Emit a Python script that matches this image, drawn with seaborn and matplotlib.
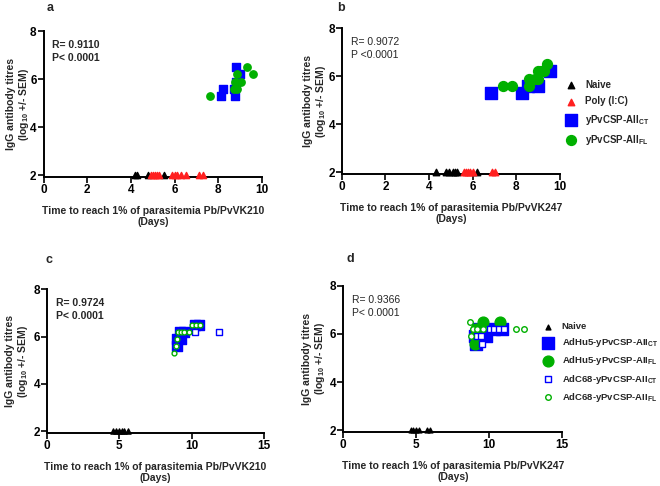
import numpy as np
import pandas as pd
import matplotlib
matplotlib.use("Agg")
import matplotlib.pyplot as plt
import seaborn as sns

# ---- panel a (Pb/PvVK210, yeast) ----
a_naive_x = [4.2, 4.3, 4.8, 5.5]
a_poly_x = [4.9, 5.0, 5.1, 5.2, 5.3, 5.9, 6.0, 6.1, 6.3, 6.5, 7.1, 7.3]
a_ct_x = [8.1, 8.2, 8.75, 8.7, 8.8, 9.0, 8.8]
a_ct_y = [5.3, 5.6, 5.3, 5.6, 6.5, 6.2, 5.9]
a_fl_x = [7.6, 9.3, 9.6, 8.85, 8.75, 9.05, 8.7, 8.85]
a_fl_y = [5.3, 6.5, 6.2, 6.2, 5.9, 5.9, 5.6, 5.6]

# ---- panel b (Pb/PvVK247, yeast) ----
b_naive_x = [4.3, 4.8, 4.9, 5.1, 5.2, 5.3, 6.2]
b_poly_x = [5.6, 5.7, 5.8, 5.9, 6.0, 6.9, 7.05]
b_ct_x = [6.85, 8.25, 8.55, 9.0, 9.55]
b_ct_y = [5.3, 5.3, 5.6, 5.6, 6.2]
b_fl_x = [7.4, 7.8, 8.6, 8.6, 8.85, 9.0, 9.0, 9.15, 9.3, 9.4]
b_fl_y = [5.6, 5.6, 5.9, 5.6, 5.9, 5.9, 6.2, 6.2, 6.2, 6.5]

# ---- panel c (Pb/PvVK210, adenovirus) ----
c_naive_x = [4.6, 4.8, 5.0, 5.2, 5.35, 5.6]
c_hu_ct_x = [9.0, 9.0, 9.3, 9.2, 9.5, 10.2, 10.5]
c_hu_ct_y = [5.6, 5.9, 5.9, 6.2, 6.2, 6.5, 6.5]
c_68_ct_x = [8.9, 10.2, 11.9, 9.4]
c_68_ct_y = [5.6, 6.2, 6.2, 6.2]
c_68_fl_x = [8.75, 8.95, 9.0, 9.05, 9.3, 9.5, 9.8, 10.0, 10.3, 10.55]
c_68_fl_y = [5.3, 5.6, 5.9, 6.2, 6.2, 6.2, 6.2, 6.5, 6.5, 6.5]

# ---- panel d (Pb/PvVK247, adenovirus) ----
d_naive_x = [4.65, 4.8, 5.0, 5.2, 5.75, 5.95]
d_hu_ct_x = [9.05, 9.3, 9.75, 10.3, 10.85, 9.1]
d_hu_ct_y = [5.9, 6.2, 5.9, 6.2, 6.2, 5.6]
d_hu_fl_x = [9.6, 10.7, 9.05, 9.1]
d_hu_fl_y = [6.5, 6.5, 5.6, 6.2]
d_68_ct_x = [9.5, 9.15, 9.4, 10.05, 10.3, 10.65, 11.0]
d_68_ct_y = [5.6, 5.9, 5.9, 6.2, 6.2, 6.2, 6.2]
d_68_fl_x = [8.7, 8.9, 9.15, 9.6, 11.8, 12.4, 8.75]
d_68_fl_y = [6.5, 6.2, 6.2, 6.2, 6.2, 6.2, 5.9]

stats = {"a": ("R= 0.9110", "P< 0.0001"), "b": ("R= 0.9072", "P <0.0001"),
         "c": ("R= 0.9724", "P< 0.0001"), "d": ("R= 0.9366", "P< 0.0001")}

BLUE = "#0000ff"
GREEN = "#00b000"
RED = "#ff2020"
W, H = 660, 486

sns.set_style("ticks")
plt.rcParams["font.family"] = ["Liberation Sans", "DejaVu Sans"]
plt.rcParams["mathtext.fontset"] = "custom"
plt.rcParams["mathtext.rm"] = "Liberation Sans:bold"
plt.rcParams["mathtext.bf"] = "Liberation Sans:bold"
plt.rcParams["mathtext.default"] = "bf"


def pts(ax, x, y, marker, s, color, filled=True, label=None, lw=1.0):
    kw = dict(marker=marker, s=s, linewidth=lw, clip_on=False, zorder=3)
    if filled:
        kw.update(color=color, edgecolor=color)
    else:
        kw.update(facecolor="white", edgecolor=color)
    sns.scatterplot(x=x, y=y, ax=ax, label=label, legend=False, **kw)


def style_axis(ax, xmax, xstep, letter, xlabel, bold_stats, ylab_x):
    ax.set_xlim(0, xmax)
    ax.set_ylim(1.93, 8)
    ax.set_xticks(np.arange(0, xmax + 0.1, xstep))
    ax.set_yticks([2, 4, 6, 8])
    sns.despine(ax=ax)
    for sp in ("left", "bottom"):
        ax.spines[sp].set_linewidth(1.4)
        ax.spines[sp].set_color("black")
    ax.tick_params(width=1.2, length=4, labelsize=8.5, pad=1, colors="black")
    for t in ax.get_xticklabels() + ax.get_yticklabels():
        t.set_fontweight("bold")
    ax.set_xlabel(xlabel, fontsize=7.5, fontweight="bold", labelpad=7, linespacing=1.2)
    ax.set_ylabel("IgG antibody titres\n(log$_{10}$ +/- SEM)", fontsize=7.5,
                  fontweight="bold", linespacing=1.1)
    ax.yaxis.set_label_coords(ylab_x, 0.5)
    r, p = stats[letter]
    ax.text(0.04, 0.94, r + "\n" + p, transform=ax.transAxes, fontsize=7.5,
            fontweight="bold" if bold_stats else "normal", va="top", linespacing=1.4)


fig = plt.figure(figsize=(6.6, 4.86), dpi=100)
ax_a = fig.add_axes([0.066, 0.636, 0.331, 0.300])
ax_b = fig.add_axes([0.518, 0.642, 0.330, 0.300])
ax_c = fig.add_axes([0.071, 0.109, 0.329, 0.296])
ax_d = fig.add_axes([0.520, 0.111, 0.332, 0.301])

# a
pts(ax_a, a_naive_x, [2] * len(a_naive_x), "^", 20, "black")
pts(ax_a, a_poly_x, [2] * len(a_poly_x), "^", 20, RED)
pts(ax_a, a_ct_x, a_ct_y, "s", 36, BLUE)
pts(ax_a, a_fl_x, a_fl_y, "o", 28, GREEN)
style_axis(ax_a, 10, 2, "a", "Time to reach 1% of parasitemia Pb/PvVK210\n(Days)", True, -0.057)

# b
pts(ax_b, b_naive_x, [2] * len(b_naive_x), "^", 12, "black", label="Naive")
pts(ax_b, b_poly_x, [2] * len(b_poly_x), "^", 12, RED, label="Poly (I:C)")
pts(ax_b, b_ct_x, b_ct_y, "s", 36, BLUE, label="yPvCSP-AII$_{CT}$")
pts(ax_b, b_fl_x, b_fl_y, "o", 28, GREEN, label="yPvCSP-AII$_{FL}$")
style_axis(ax_b, 10, 2, "b", "Time to reach 1% of parasitemia Pb/PvVK247\n(Days)", False, -0.064)
hb, lb = ax_b.get_legend_handles_labels()
for h in hb:
    h.set_sizes(h.get_sizes() * 1.8)
fig.legend(hb, lb, loc="upper left", bbox_to_anchor=(565 / W, 1 - 80 / H), frameon=False,
           prop={"size": 7.0, "weight": "bold"}, handlelength=1.2, handletextpad=0.9,
           labelspacing=0.65, borderpad=0, borderaxespad=0)

# c
pts(ax_c, c_naive_x, [2] * len(c_naive_x), "^", 14, "black")
pts(ax_c, c_hu_ct_x, c_hu_ct_y, "s", 45, BLUE)
pts(ax_c, c_68_ct_x, c_68_ct_y, "s", 14, BLUE, filled=False)
pts(ax_c, c_68_fl_x, c_68_fl_y, "o", 12, GREEN, filled=False)
style_axis(ax_c, 15, 5, "c", "Time to reach 1% of parasitemia Pb/PvVK210\n(Days)", True, -0.076)

# d
pts(ax_d, d_naive_x, [2] * len(d_naive_x), "^", 18, "black", label="Naive")
pts(ax_d, d_hu_ct_x, d_hu_ct_y, "s", 40, BLUE, label="AdHu5-yPvCSP-AII$_{CT}$")
pts(ax_d, d_hu_fl_x, d_hu_fl_y, "o", 40, GREEN, label="AdHu5-yPvCSP-AII$_{FL}$")
pts(ax_d, d_68_ct_x, d_68_ct_y, "s", 14, BLUE, filled=False, label="AdC68-yPvCSP-AII$_{CT}$")
pts(ax_d, d_68_fl_x, d_68_fl_y, "o", 12, GREEN, filled=False, label="AdC68-yPvCSP-AII$_{FL}$")
style_axis(ax_d, 15, 5, "d", "Time to reach 1% of parasitemia Pb/PvVK247\n(Days)", False, -0.072)
hd, ld = ax_d.get_legend_handles_labels()
hd[0].set_sizes([12])
hd[1].set_sizes([70])
hd[2].set_sizes([60])
hd[3].set_sizes([22])
hd[4].set_sizes([16])
fig.legend(hd, ld, loc="upper left", bbox_to_anchor=(542 / W, 1 - 322 / H), frameon=False,
           prop={"size": 6.8, "weight": "bold"}, handlelength=1.2, handletextpad=0.9,
           labelspacing=0.55, borderpad=0, borderaxespad=0)

# panel letters
for letter, (x, y) in {"a": (50, 8), "b": (341, 8), "c": (49, 260), "d": (350, 259)}.items():
    fig.text(x / W, 1 - y / H, letter, fontsize=9, fontweight="bold", va="center", ha="center")

fig.savefig("out.png", dpi=100)
